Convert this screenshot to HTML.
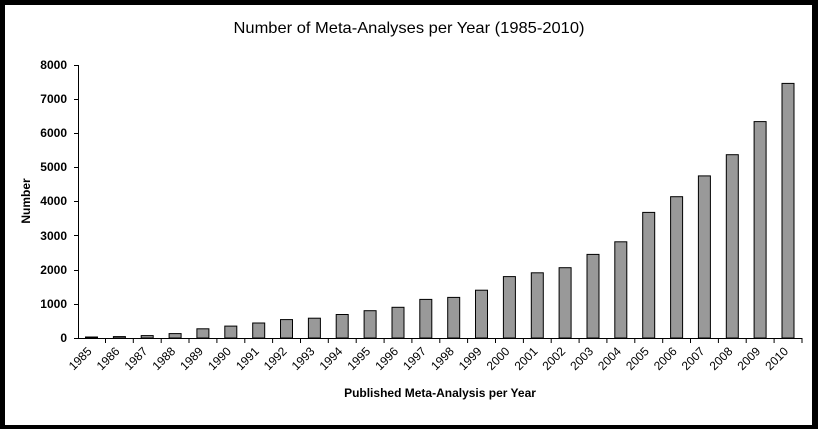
<!DOCTYPE html>
<html><head><style>body{margin:0;background:#000}svg{display:block}</style></head>
<body>
<svg width="818" height="429" xmlns="http://www.w3.org/2000/svg" font-family="Liberation Sans, Arial, sans-serif">
<rect x="0" y="0" width="818" height="429" fill="#000"/>
<rect x="5" y="5" width="807" height="420" fill="#fff"/>
<text x="409" y="33" font-size="16" text-anchor="middle" textLength="351" lengthAdjust="spacingAndGlyphs">Number of Meta-Analyses per Year (1985-2010)</text>
<g font-size="12" font-weight="bold" text-anchor="end">
<text x="67" y="69">8000</text><text x="67" y="103">7000</text><text x="67" y="137">6000</text><text x="67" y="171">5000</text>
<text x="67" y="205">4000</text><text x="67" y="240">3000</text><text x="67" y="274">2000</text><text x="67" y="308">1000</text><text x="67" y="342">0</text>
</g>
<text transform="translate(30,201) rotate(-90)" font-size="12" font-weight="bold" text-anchor="middle">Number</text>
<text x="440" y="397" font-size="12" font-weight="bold" text-anchor="middle">Published Meta-Analysis per Year</text>
<g stroke="#000" stroke-width="1">
<line x1="78.5" y1="65" x2="78.5" y2="338"/>
<line x1="78" y1="338.5" x2="802" y2="338.5"/>
<line x1="74" y1="65.5" x2="78" y2="65.5"/><line x1="74" y1="99.5" x2="78" y2="99.5"/><line x1="74" y1="133.5" x2="78" y2="133.5"/><line x1="74" y1="167.5" x2="78" y2="167.5"/><line x1="74" y1="201.5" x2="78" y2="201.5"/><line x1="74" y1="235.5" x2="78" y2="235.5"/><line x1="74" y1="270.5" x2="78" y2="270.5"/><line x1="74" y1="304.5" x2="78" y2="304.5"/><line x1="74" y1="338.5" x2="78" y2="338.5"/>
</g>
<g id="bars"></g>
<g id="xl" font-size="12" text-anchor="end"></g>
<script>
var v=[30,40,70,130,270,350,440,540,580,690,800,900,1130,1190,1400,1800,1910,2060,2450,2820,3680,4140,4750,5370,6340,7460];
var ns="http://www.w3.org/2000/svg",b=document.getElementById('bars'),xl=document.getElementById('xl');
for(var i=0;i<26;i++){var c=91.5+27.86*i;var h=v[i]*0.034125;
var r=document.createElementNS(ns,'rect');r.setAttribute('x',(c-6).toFixed(1));r.setAttribute('y',(338-h).toFixed(1));r.setAttribute('width',12);r.setAttribute('height',h.toFixed(1));r.setAttribute('fill','#999');r.setAttribute('stroke','#000');r.setAttribute('stroke-width','1');b.appendChild(r);
var t=document.createElementNS(ns,'line');var tx=(77.6+27.86*(i+1)).toFixed(1);t.setAttribute('x1',tx);t.setAttribute('x2',tx);t.setAttribute('y1',338);t.setAttribute('y2',343);t.setAttribute('stroke','#000');b.appendChild(t);
var l=document.createElementNS(ns,'text');l.setAttribute('transform','translate('+(c+1).toFixed(1)+',352) rotate(-45)');l.textContent=1985+i;xl.appendChild(l);}
</script>
</svg>
</body></html>
